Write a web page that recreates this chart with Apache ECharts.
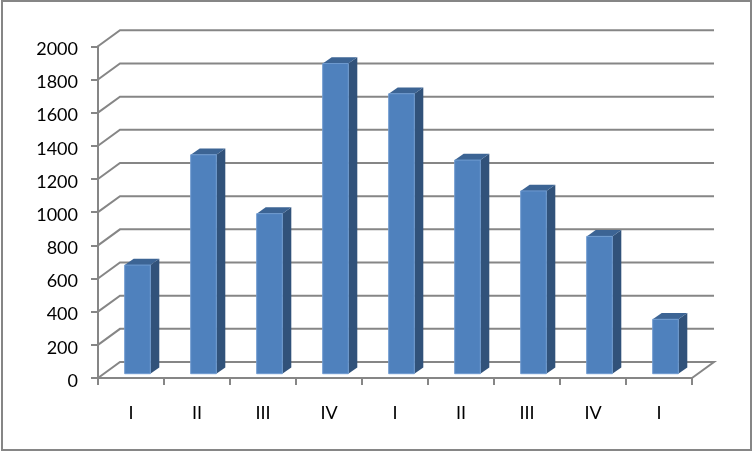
<!DOCTYPE html>
<html><head><meta charset="utf-8">
<style>html,body{margin:0;padding:0;background:#fff}#c{width:753px;height:451px}</style>
<script src="https://cdn.jsdelivr.net/npm/echarts@6/dist/echarts.min.js"></script>
</head><body><div id="c"></div>
<script>
const categories = ['I','II','III','IV','I','II','III','IV','I'];
const values = [655, 1320, 965, 1870, 1688, 1288, 1102, 828, 328];
const ticks = [0,200,400,600,800,1000,1200,1400,1600,1800,2000];

const wallDx = 22, wallDy = -16;
const barDx = 6.5, barDy = -4.3, barW = 25.6, depthX = 9, depthY = -6.3;
const gridColor = '#868686';

const chart = echarts.init(document.getElementById('c'), null, {renderer:'canvas'});
chart.setOption({
  animation:false,
  backgroundColor:'#fff',
  graphic:[{type:'rect',shape:{x:2,y:1,width:749,height:449},style:{fill:'none',stroke:gridColor,lineWidth:2},silent:true}],
  grid:{left:98,right:61,top:46.3,bottom:73},
  xAxis:{type:'category',data:categories,
    axisLine:{show:true,lineStyle:{color:gridColor,width:2}},
    axisTick:{show:true,length:7,alignWithLabel:false,lineStyle:{color:gridColor,width:2}},
    axisLabel:{color:'#000',fontFamily:'Lato',fontSize:18,margin:26},
    splitLine:{show:false}},
  yAxis:{type:'value',min:0,max:2000,interval:200,
    axisLine:{show:true,lineStyle:{color:gridColor,width:2}},
    axisTick:{show:true,length:7,lineStyle:{color:gridColor,width:2}},
    axisLabel:{color:'#000',fontFamily:'Lato',fontSize:18,margin:20,formatter:v=>'{a|'+v+'}',
      rich:{a:{color:'#000',fontFamily:'Lato',fontSize:18,padding:[6,0,0,0]}}},
    splitLine:{show:false}},
  series:[
    {type:'custom',coordinateSystem:'cartesian2d',data:ticks.map(t=>[0,t]),z:1,silent:true,
     renderItem:(p,api)=>{
       const a=api.coord([0,api.value(1)]);
       const left=a[0]-api.size([1,0])[0]/2;
       const right=left+api.size([1,0])[0]*categories.length;
       const pts=[[left,a[1]],[left+wallDx,a[1]+wallDy],[right+wallDx,a[1]+wallDy]];
       if(api.value(1)===0) pts.push([right,a[1]]);
       return {type:'polyline',shape:{points:pts},style:{fill:null,stroke:gridColor,lineWidth:2}};
     }},
    {type:'custom',coordinateSystem:'cartesian2d',data:values.map((v,i)=>[i,v]),z:3,silent:true,
     renderItem:(p,api)=>{
       const top=api.coord([api.value(0),api.value(1)]);
       const base=api.coord([api.value(0),0]);
       const x0=top[0]+barDx-barW/2,x1=x0+barW,yT=top[1]+barDy,yB=base[1]+barDy;
       return {type:'group',children:[
         {type:'polygon',shape:{points:[[x1,yT],[x1+depthX,yT+depthY],[x1+depthX,yB+depthY],[x1,yB]]},style:{fill:'#31527a'}},
         {type:'polygon',shape:{points:[[x0,yT],[x0+depthX,yT+depthY],[x1+depthX,yT+depthY],[x1,yT]]},style:{fill:'#3c6494'}},
         {type:'rect',shape:{x:x0,y:yT,width:barW,height:yB-yT},style:{fill:'#4f81bd',stroke:'#6f9bd0',lineWidth:1}}
       ]};
     }}
  ]
});
</script></body></html>
